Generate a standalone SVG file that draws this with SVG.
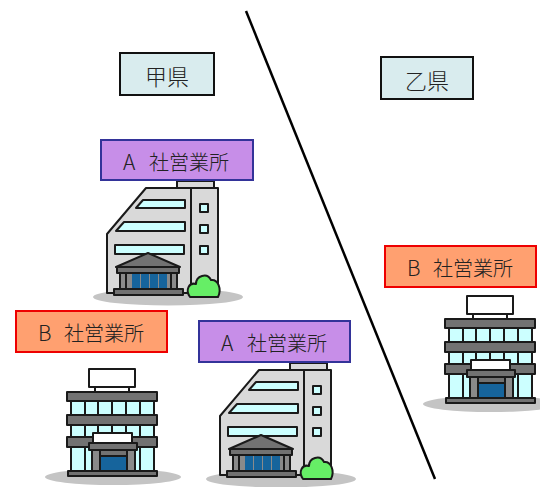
<svg xmlns="http://www.w3.org/2000/svg" xmlns:xlink="http://www.w3.org/1999/xlink" width="540" height="487" viewBox="0 0 540 487">
<style>
.lbl-a{fill:#c78ee8;stroke:#333399;stroke-width:2}
.lbl-b{fill:#ffa070;stroke:#ee0000;stroke-width:2}
.lbl-p{fill:#d9ecee;stroke:#111;stroke-width:2}
.t{font-family:"Noto Sans CJK JP","Noto Sans",sans-serif;font-weight:300;fill:#222}
.o{stroke:#1a1a1a;stroke-width:2;stroke-linejoin:round}
.gl{fill:#ccffff}
.wall{fill:#d9d9d9}
.dk{fill:#727272}
.md{fill:#8a8a8a}
.blue{fill:#16649c}
.shadow{fill:#c4c4c4}
.bush{fill:#66ee66}
.wh{fill:#ffffff}
</style>
<defs>
<g id="bldgA">
<ellipse class="shadow" cx="168" cy="297" rx="75" ry="8.5"/>
<rect class="wall o" x="177" y="181" width="37" height="8"/>
<path class="wall o" d="M107,293 L107,234 L146,188 L218,188 L218,293 Z"/>
<line class="o" x1="191" y1="188" x2="191" y2="293"/>
<polygon class="gl o" points="136,208 143,200 185,200 185,208"/>
<polygon class="gl o" points="116,231 124,222 185,222 185,231"/>
<rect class="gl o" x="115" y="245" width="69" height="9"/>
<rect class="gl o" x="200" y="204" width="8" height="8"/>
<rect class="gl o" x="200" y="225" width="8" height="8"/>
<rect class="gl o" x="200" y="246" width="8" height="8"/>
<polygon class="dk o" points="148,253 116,267 180,267"/>
<rect class="dk o" x="117" y="267" width="62" height="6"/>
<rect class="md o" x="120" y="273" width="57" height="17"/>
<rect class="blue" x="132" y="274" width="8" height="15"/>
<rect class="blue" x="141" y="274" width="8" height="15"/>
<rect class="blue" x="150" y="274" width="8" height="15"/>
<rect class="blue" x="159" y="274" width="8" height="15"/>
<line class="o" x1="126" y1="273" x2="126" y2="290" stroke-width="1.5"/>
<line class="o" x1="171" y1="273" x2="171" y2="290" stroke-width="1.5"/>
<rect class="dk o" x="114" y="289" width="69" height="6"/>
<path class="bush o" d="M190,297 C185,290 189,282 196,284 C196,276 207,272 211,280 C218,279 222,289 218,297 Z"/>
</g>
<g id="bldgB">
<ellipse class="shadow" cx="113" cy="477" rx="68" ry="8"/>
<line class="o" x1="95" y1="387" x2="95" y2="393"/>
<line class="o" x1="129" y1="387" x2="129" y2="393"/>
<rect class="wh o" x="89" y="369" width="46" height="18"/>
<rect class="gl o" x="71" y="400" width="83" height="72"/>
<g class="o" stroke-width="2.5">
<line x1="85" y1="400" x2="85" y2="472"/>
<line x1="98" y1="400" x2="98" y2="472"/>
<line x1="112" y1="400" x2="112" y2="472"/>
<line x1="126" y1="400" x2="126" y2="472"/>
<line x1="140" y1="400" x2="140" y2="472"/>
</g>
<rect class="dk o" x="67" y="392" width="90" height="9"/>
<rect class="dk o" x="67" y="415" width="90" height="10"/>
<rect class="dk o" x="67" y="437" width="90" height="10"/>
<rect class="md o" x="92" y="450" width="8" height="22"/>
<rect class="md o" x="127" y="450" width="8" height="22"/>
<rect class="dk o" x="100" y="450" width="27" height="6"/>
<rect class="blue o" x="100" y="456" width="27" height="16"/>
<rect class="dk o" x="89" y="443" width="48" height="7"/>
<rect class="wh o" x="93" y="433" width="39" height="10"/>
<rect class="dk o" x="68" y="471" width="89" height="5"/>
</g>
</defs>

<g id="connectors">
<line x1="246" y1="11" x2="435" y2="479" stroke="#000" stroke-width="2.5"/>
</g>

<g id="pref-kou">
<rect class="lbl-p" x="120" y="53" width="94" height="42"/>
<text class="t" x="167" y="85" font-size="22" text-anchor="middle">甲県</text>
</g>
<g id="pref-otsu">
<rect class="lbl-p" x="381" y="57" width="92" height="42"/>
<text class="t" x="427" y="89" font-size="22" text-anchor="middle">乙県</text>
</g>

<g id="office-a1">
<use xlink:href="#bldgA"/>
<rect class="lbl-a" x="101" y="140" width="152" height="40"/>
<text class="t" x="123" y="170" font-size="20"><tspan font-size="21">A</tspan><tspan x="149">社営業所</tspan></text>
</g>

<g id="office-a2">
<use xlink:href="#bldgA" transform="translate(113,182)"/>
<rect class="lbl-a" x="199" y="321" width="151" height="41"/>
<text class="t" x="221" y="351" font-size="20"><tspan font-size="21">A</tspan><tspan x="247">社営業所</tspan></text>
</g>

<g id="office-b1">
<use xlink:href="#bldgB"/>
<rect class="lbl-b" x="16" y="311" width="151" height="41"/>
<text class="t" x="38" y="341" font-size="20"><tspan font-size="21">B</tspan><tspan x="64">社営業所</tspan></text>
</g>

<g id="office-b2">
<use xlink:href="#bldgB" transform="translate(378,-73)"/>
<rect class="lbl-b" x="385" y="246" width="151" height="41"/>
<text class="t" x="407" y="276" font-size="20"><tspan font-size="21">B</tspan><tspan x="433">社営業所</tspan></text>
</g>
</svg>
